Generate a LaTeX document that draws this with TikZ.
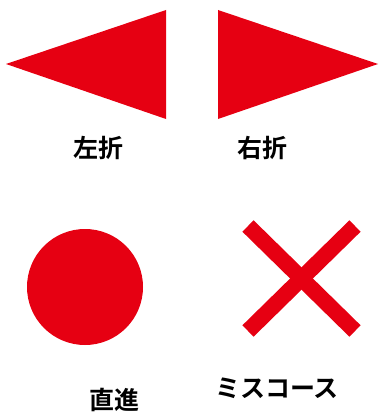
\documentclass[tikz,border=0pt]{standalone}
\usepackage{fontspec}
\newfontfamily\jpfont{Noto Sans CJK JP Bold}
\usetikzlibrary{positioning}
\definecolor{signred}{RGB}{230,0,18}
\tikzset{
    sign/.style={fill=signred, draw=none},
    label/.style={font=\jpfont\fontsize{25}{25}\selectfont, inner sep=0pt}
}

\begin{document}
\begin{tikzpicture}[x=1pt, y=-1pt]
    \useasboundingbox (0, 0) rectangle (382, 417);
    \fill [sign] (6, 64) -- (166, 10) -- (166, 119) -- cycle;
    \fill [sign] (378, 64) -- (218, 10) -- (218, 119) -- cycle;
    \path (98, 148) node [label] (left) {左折};
    \path (262, 148) node [label] (right) {右折};

    \fill [sign] (85, 287) circle (58);
    \draw [signred, line width=16] (248, 226) -- (355, 331);
    \draw [signred, line width=16] (355, 226) -- (248, 331);
    \path (114, 400) node [label] (straight) {直進};
    \path (277, 388) node [label] (miss) {ミスコース};
\end{tikzpicture}
\end{document}
